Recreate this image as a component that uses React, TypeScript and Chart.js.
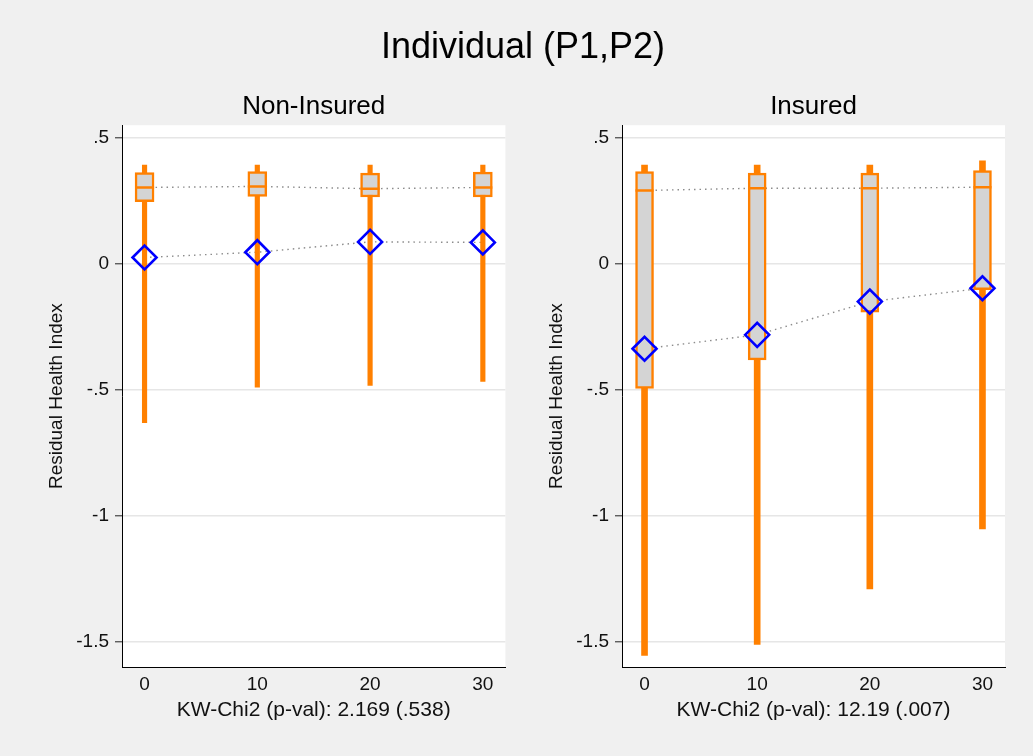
import React, { useEffect, useRef } from "react";
import { Chart, registerables } from "chart.js";

Chart.register(...registerables);

// ---------- data ----------
const xCats = [0, 10, 20, 30];
const xTicks = [0, 10, 20, 30];
const yTicks = [0.5, 0, -0.5, -1, -1.5];
const yTickLabels = [".5", "0", "-.5", "-1", "-1.5"];

const mainTitle = "Individual (P1,P2)";
const yTitle = "Residual Health Index";

// Non-Insured
const niTitle = "Non-Insured";
const niXTitle = "KW-Chi2 (p-val): 2.169 (.538)";
const niWhiskerLo = [-0.63, -0.49, -0.483, -0.467];
const niWhiskerHi = [0.392, 0.392, 0.392, 0.392];
const niBoxLo = [0.247, 0.267, 0.265, 0.265];
const niBoxHi = [0.362, 0.366, 0.36, 0.364];
const niMedian = [0.303, 0.307, 0.298, 0.303];
const niMean = [0.025, 0.046, 0.087, 0.085];

// Insured
const inTitle = "Insured";
const inXTitle = "KW-Chi2 (p-val): 12.19 (.007)";
const inWhiskerLo = [-1.554, -1.51, -1.29, -1.052];
const inWhiskerHi = [0.392, 0.392, 0.392, 0.409];
const inBoxLo = [-0.495, -0.381, -0.192, -0.103];
const inBoxHi = [0.366, 0.36, 0.36, 0.37];
const inMedian = [0.291, 0.3, 0.3, 0.304];
const inMean = [-0.337, -0.282, -0.15, -0.097];

// ---------- styles ----------
const FONT = "'Liberation Sans', Arial, Helvetica, sans-serif";
const ORANGE = "#ff8000";
const BOXFILL = "#d4d4d4";
const BLUE = "#0000ff";
const DOT = "#8c8c8c";
const BG = "#f0f0f0";

const plotBg = {
  id: "plotBg",
  beforeDraw(chart: any) {
    const { ctx, chartArea } = chart;
    if (!chartArea) return;
    ctx.save();
    ctx.fillStyle = "#ffffff";
    ctx.fillRect(chartArea.left, chartArea.top, chartArea.right - chartArea.left, chartArea.bottom - chartArea.top);
    ctx.restore();
  },
};

type Panel = {
  title: string;
  xTitle: string;
  wLo: number[];
  wHi: number[];
  bLo: number[];
  bHi: number[];
  med: number[];
  mean: number[];
  boxW: number;
  whiskW: number;
  padRight: number;
};

function makeConfig(p: Panel): any {
  const pts = (arr: number[]) => xCats.map((x, i) => ({ x, y: arr[i] }));
  const rng = (lo: number[], hi: number[]) => xCats.map((x, i) => ({ x, y: [lo[i], hi[i]] }));
  return {
    type: "bar",
    data: {
      datasets: [
        {
          type: "line",
          data: pts(p.med),
          borderColor: DOT,
          borderWidth: 1.4,
          borderDash: [1.5, 4],
          pointRadius: 0,
          fill: false,
          order: 7,
        },
        {
          type: "line",
          data: pts(p.mean),
          borderColor: DOT,
          borderWidth: 1.4,
          borderDash: [1.5, 4],
          pointRadius: 0,
          fill: false,
          order: 7,
        },
        {
          type: "bar",
          data: rng(p.wLo, p.wHi),
          backgroundColor: ORANGE,
          borderWidth: 0,
          barThickness: p.whiskW,
          grouped: false,
          order: 6,
        },
        {
          type: "bar",
          data: rng(p.bLo, p.bHi),
          backgroundColor: BOXFILL,
          borderColor: ORANGE,
          borderWidth: 2.5,
          borderSkipped: false,
          barThickness: p.boxW,
          grouped: false,
          order: 5,
        },
        {
          type: "line",
          data: pts(p.med),
          showLine: false,
          pointStyle: "line",
          pointRadius: p.boxW / 2,
          pointHoverRadius: p.boxW / 2,
          pointBorderColor: ORANGE,
          pointBorderWidth: 2.5,
          order: 3,
        },
        {
          type: "line",
          data: pts(p.mean),
          showLine: false,
          pointStyle: "rectRot",
          pointRadius: 12,
          pointHoverRadius: 12,
          pointBorderColor: BLUE,
          pointBackgroundColor: "rgba(0,0,0,0)",
          pointBorderWidth: 2.6,
          order: 1,
        },
      ],
    },
    options: {
      responsive: false,
      animation: false,
      events: [],
      layout: { padding: { top: 88, left: 41, right: p.padRight, bottom: 29 } },
      plugins: {
        legend: { display: false },
        tooltip: { enabled: false },
        title: {
          display: true,
          text: p.title,
          fullSize: false,
          color: "#000",
          font: { family: FONT, size: 26, weight: "normal" },
          padding: { top: 3, bottom: 3 },
        },
      },
      scales: {
        x: {
          type: "linear",
          min: -2,
          max: 32,
          offset: false,
          afterBuildTicks: (s: any) => {
            s.ticks = xTicks.map((v) => ({ value: v }));
          },
          afterFit: (s: any) => {
            s.height = 60;
          },
          grid: { display: false, drawTicks: false, offset: false },
          border: { display: true, color: "#000", width: 1 },
          ticks: {
            color: "#111",
            padding: 6,
            maxRotation: 0,
            font: { family: FONT, size: 19 },
            callback: (v: any) => String(v),
          },
          title: {
            display: true,
            text: p.xTitle,
            color: "#111",
            font: { family: FONT, size: 21 },
            padding: { top: 4, bottom: 4 },
          },
        },
        y: {
          type: "linear",
          min: -1.6,
          max: 0.55,
          afterBuildTicks: (s: any) => {
            s.ticks = yTicks.map((v) => ({ value: v }));
          },
          afterFit: (s: any) => {
            s.width = 81;
          },
          grid: {
            display: true,
            color: "#e6e6e6",
            lineWidth: 1.6,
            drawTicks: true,
            tickLength: 7,
            tickColor: "#222",
            tickWidth: 1,
          },
          border: { display: true, color: "#000", width: 1 },
          ticks: {
            color: "#111",
            padding: 6,
            font: { family: FONT, size: 19 },
            callback: (_v: any, i: number) => yTickLabels[i],
          },
          title: {
            display: true,
            text: yTitle,
            color: "#111",
            font: { family: FONT, size: 19 },
            padding: { top: 4, bottom: 4 },
          },
        },
      },
    },
    plugins: [plotBg],
  };
}

const leftPanel: Panel = {
  title: niTitle,
  xTitle: niXTitle,
  wLo: niWhiskerLo,
  wHi: niWhiskerHi,
  bLo: niBoxLo,
  bHi: niBoxHi,
  med: niMedian,
  mean: niMean,
  boxW: 19,
  whiskW: 4.5,
  padRight: 12,
};

const rightPanel: Panel = {
  title: inTitle,
  xTitle: inXTitle,
  wLo: inWhiskerLo,
  wHi: inWhiskerHi,
  bLo: inBoxLo,
  bHi: inBoxHi,
  med: inMedian,
  mean: inMean,
  boxW: 18,
  whiskW: 6,
  padRight: 29,
};

function PanelChart({ panel, left, width }: { panel: Panel; left: number; width: number }) {
  const ref = useRef<HTMLCanvasElement | null>(null);
  useEffect(() => {
    if (!ref.current) return;
    const chart = new Chart(ref.current, makeConfig(panel));
    return () => chart.destroy();
  }, [panel]);
  return (
    <canvas
      ref={ref}
      width={width}
      height={756}
      style={{ position: "absolute", left, top: 0, width, height: 756 }}
    />
  );
}

export default function App() {
  return (
    <div
      style={{
        position: "absolute",
        left: 0,
        top: 0,
        width: 1033,
        height: 756,
        background: BG,
        overflow: "hidden",
        fontFamily: FONT,
      }}
    >
      <PanelChart panel={leftPanel} left={0} width={520} />
      <PanelChart panel={rightPanel} left={500} width={534} />
      <div
        style={{
          position: "absolute",
          left: 0,
          top: 26,
          width: 1046,
          textAlign: "center",
          fontSize: 36,
          lineHeight: "40px",
          color: "#000",
          whiteSpace: "nowrap",
        }}
      >
        {mainTitle}
      </div>
    </div>
  );
}
